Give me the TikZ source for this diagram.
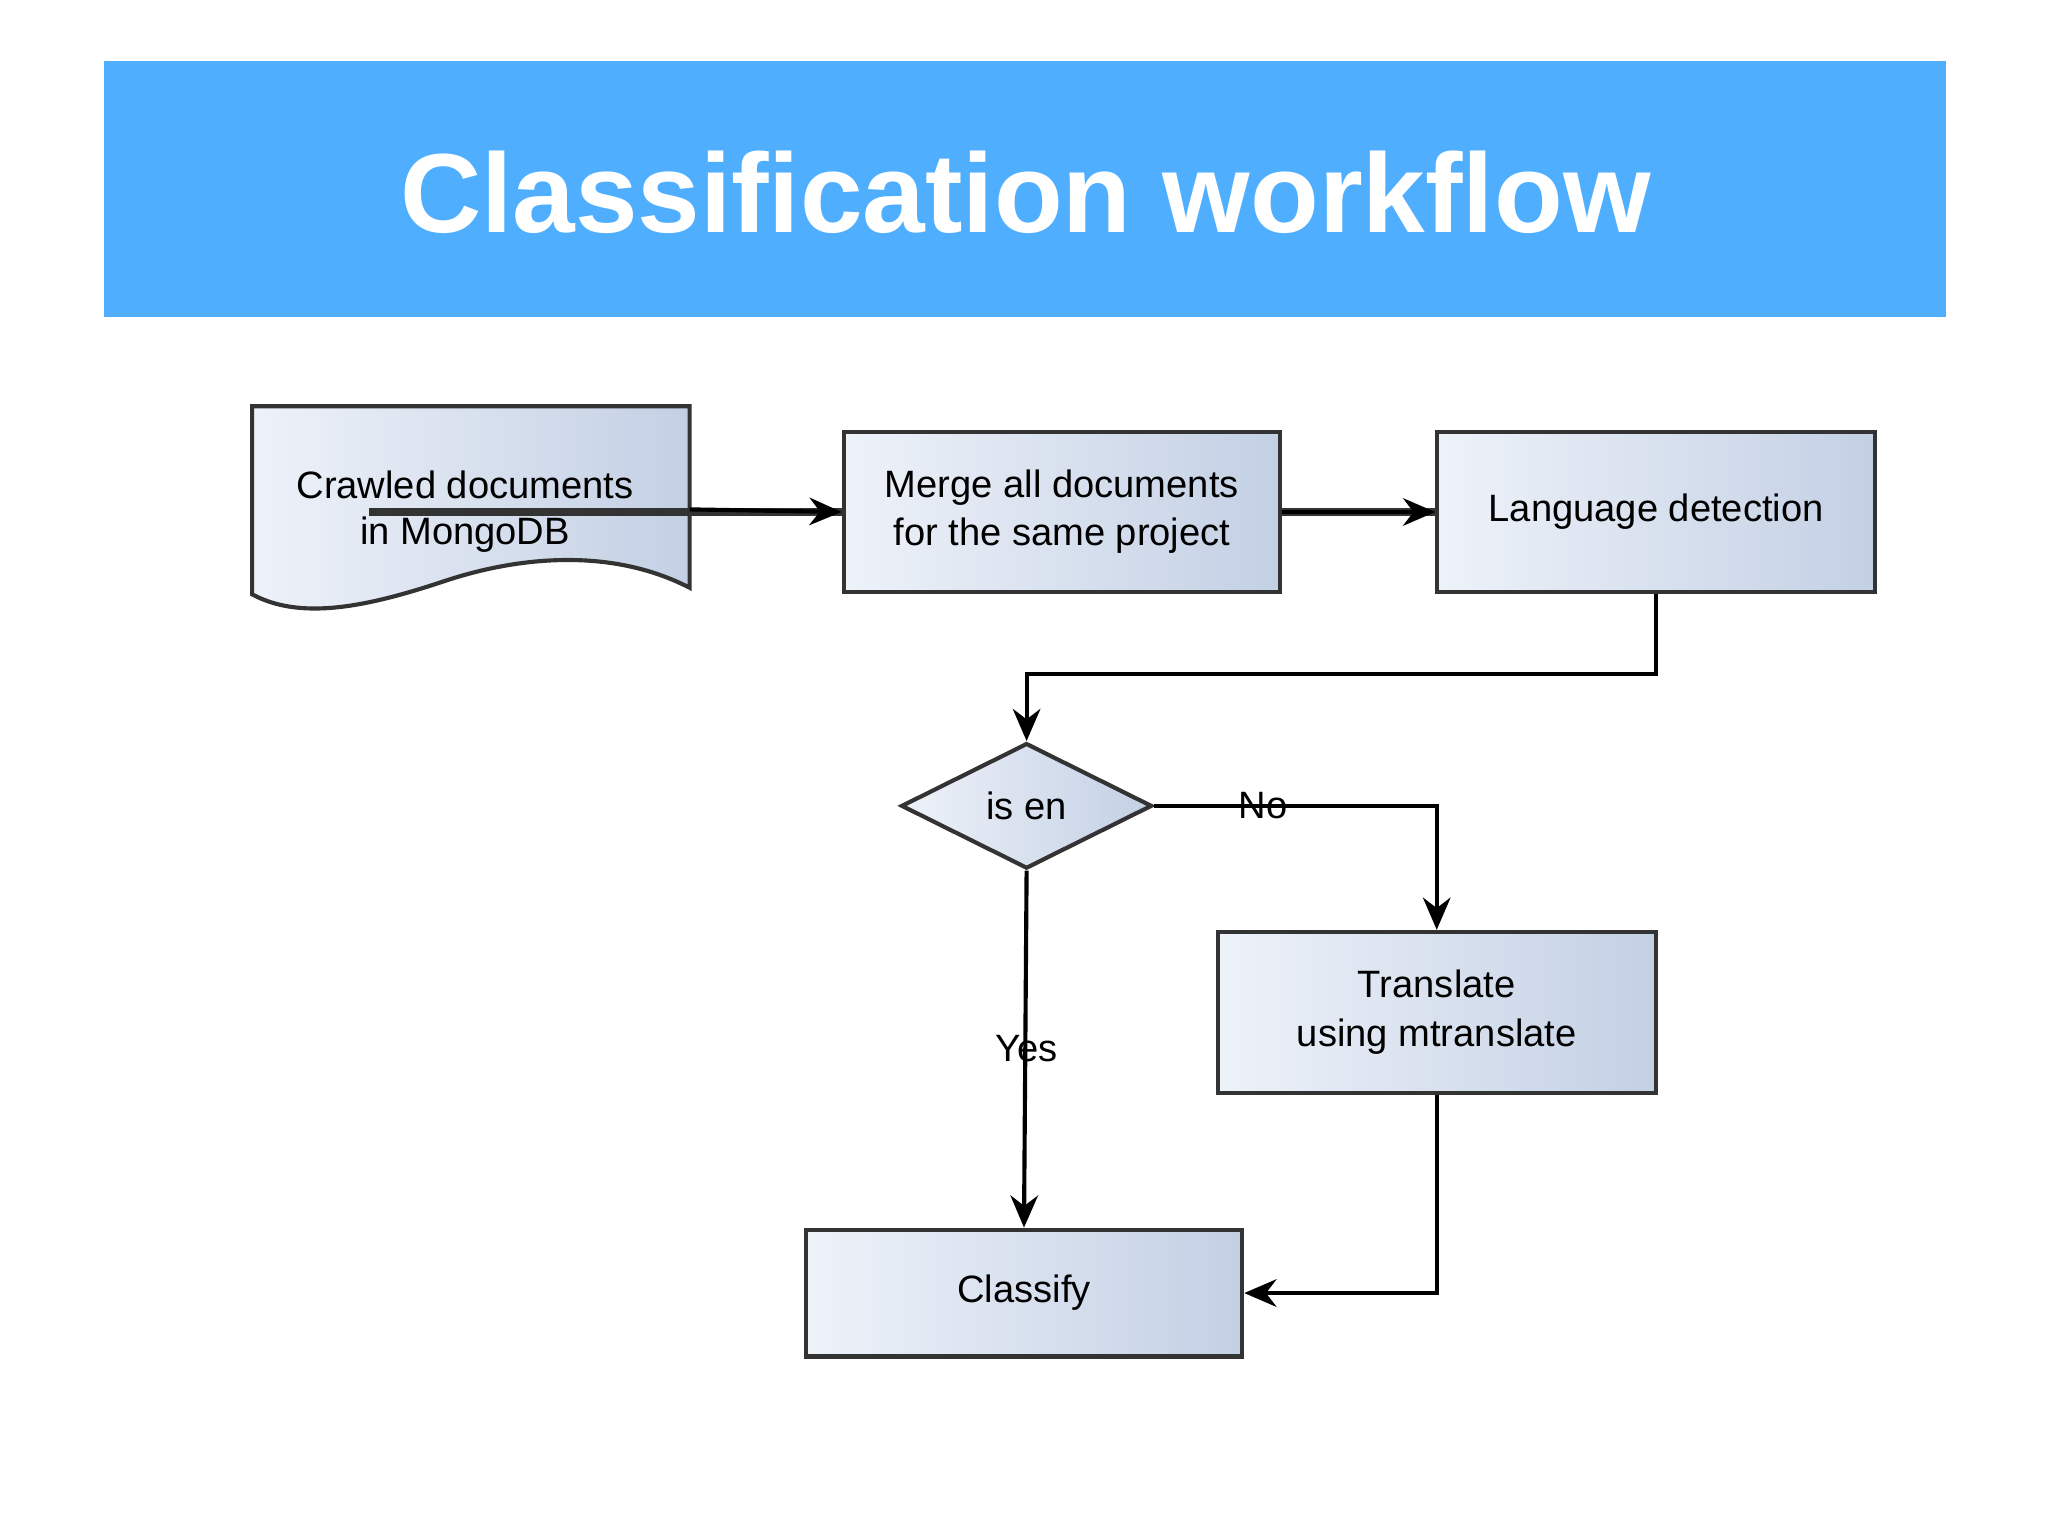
\documentclass[tikz,border=0pt]{standalone}
\usepackage{fontspec}
\setmainfont{Liberation Sans}
\usetikzlibrary{shapes.geometric,arrows.meta}
\definecolor{bar}{HTML}{4FAFFE}
\definecolor{fl}{HTML}{EEF2F9}
\definecolor{fr}{HTML}{C3D0E4}
\begin{document}
\begin{tikzpicture}[x=0.01cm,y=-0.01cm,
  box/.style={draw=black!80,line width=0.9pt,left color=fl,right color=fr,inner sep=0pt,font=\fontsize{8.3pt}{10.5pt}\selectfont,align=center},
  arr/.style={draw=black,line width=0.9pt,-{Stealth[length=7pt,width=6pt]}},
  lab/.style={font=\fontsize{8.3pt}{10pt}\selectfont}]
\useasboundingbox (0,0) rectangle (1568,1176);
\fill[white] (0,0) rectangle (1568,1176);
\fill[bar] (80,47) rectangle (1490,243);
\node[text=white,font=\fontsize{24.5pt}{28pt}\selectfont\bfseries] (title) at (785,147) {Classification workflow};
% document shape
\shade[left color=fl,right color=fr,draw=black!80,line width=0.9pt]
  (193,311) -- (528,311) -- (528,450) .. controls (470,420) and (400,425) .. (340,445)
  .. controls (280,465) and (230,475) .. (193,455) -- cycle;
\node[lab,align=center] (doc) at (356,392) {Crawled documents\\in MongoDB};
\coordinate (docr) at (528,390);
\node[box,minimum width=334\pgflinewidth,text width=320*0.01cm] (merge) at (813,392) {};
\node[box,minimum width=3.34cm,minimum height=1.22cm] (merge) at (813,392) {Merge all documents\\for the same project};
\node[box,minimum width=3.35cm,minimum height=1.22cm] (lang) at (1268,392) {Language detection};
\node[box,diamond,aspect=2,minimum width=1.92cm,minimum height=0.96cm] (isen) at (786,617) {is en};
\node[box,minimum width=3.35cm,minimum height=1.23cm] (tr) at (1100,775) {Translate\\using mtranslate};
\node[box,minimum width=3.34cm,minimum height=0.97cm] (cl) at (784,990) {Classify};
\draw[arr] (docr) -- (merge.west);
\draw[arr] (merge.east) -- (lang.west);
\draw[arr] (lang.south) -- (1268,516) -- (786,516) -- (isen.north);
\draw[arr] (isen.east) -- (1100,617) -- (tr.north);
\node[lab] (no) at (967,617) {No};
\draw[arr] (isen.south) -- (cl.north);
\node[lab] (yes) at (786,803) {Yes};
\draw[arr] (tr.south) -- (1100,990) -- (cl.east);
\end{tikzpicture}
\end{document}
